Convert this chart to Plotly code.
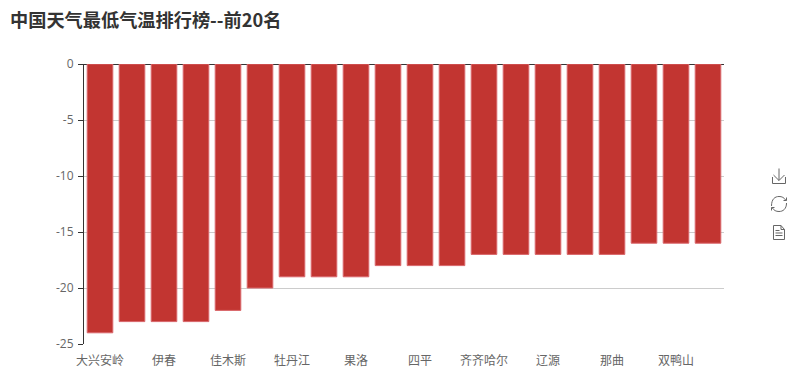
import plotly.graph_objects as go

title_text = "中国天气最低气温排行榜--前20名"
ranks = list(range(20))
min_temps = [-24, -23, -23, -23, -22, -20, -19, -19, -19, -18,
             -18, -18, -17, -17, -17, -17, -17, -16, -16, -16]
tick_positions = [0, 2, 4, 6, 8, 10, 12, 14, 16, 18]
tick_labels = ["大兴安岭", "伊春", "佳木斯", "牡丹江", "果洛", "四平", "齐齐哈尔", "辽源", "那曲", "双鸭山"]
y_ticks = [0, -5, -10, -15, -20, -25]

W, H = 798, 380
CJK = "'Noto Sans CJK SC', 'Noto Sans', sans-serif"


def px_path(cmds):
    """Toolbox icons are given in page pixels; convert to paper coordinates."""
    L, R, T, B = 84, 74, 64, 36
    out = []
    for c in cmds:
        if isinstance(c, str):
            out.append(c)
        else:
            out.append(f"{(c[0]-L)/(W-L-R):.5f},{1-(c[1]-T)/(H-T-B):.5f}")
    return " ".join(out)


icon_style = dict(type="path", xref="paper", yref="paper", line=dict(color="#666", width=1),
                  fillcolor="rgba(0,0,0,0)", layer="above")
icons = [
    # save-as-image
    [("M"), (772.5, 177), ("L"), (772.5, 183.5), ("L"), (785.5, 183.5), ("L"), (785.5, 177)],
    [("M"), (779, 168.5), ("L"), (779, 180.5)],
    [("M"), (773.5, 175), ("L"), (779, 180.5), ("L"), (784.5, 175)],
    # restore
    [("M"), (771.5, 206), ("C"), (771.5, 199), (775, 196.5), (779, 196.5), ("C"), (782, 196.5), (784, 197.5), (786, 200.5)],
    [("M"), (786.5, 203), ("C"), (786.5, 209), (783, 211.5), (779, 211.5), ("C"), (776, 211.5), (774, 210.5), (772, 207.5)],
    [("M"), (783.5, 200.5), ("L"), (786.5, 200.5), ("L"), (786.5, 197.5)],
    [("M"), (774.5, 207.5), ("L"), (771.5, 207.5), ("L"), (771.5, 210.5)],
    # data view
    [("M"), (773.5, 225.5), ("L"), (781, 225.5), ("L"), (784.5, 229.5), ("L"), (784.5, 239.5), ("L"), (773.5, 239.5), ("Z")],
    [("M"), (781, 225.5), ("L"), (781, 229.5), ("L"), (784.5, 229.5)],
    [("M"), (775.5, 230.5), ("L"), (779.5, 230.5)],
    [("M"), (775.5, 233), ("L"), (782.5, 233)],
    [("M"), (775.5, 235.5), ("L"), (782.5, 235.5)],
]
shapes = [dict(path=px_path(i), **icon_style) for i in icons]

fig = go.Figure(go.Bar(
    x=ranks, y=min_temps, width=0.8,
    marker=dict(color="#c23531", line=dict(color="#d9666a", width=1)),
    hoverinfo="x+y",
))
fig.update_layout(
    width=W, height=H, showlegend=False,
    margin=dict(l=84, r=74, t=64, b=36, pad=0),
    paper_bgcolor="#fff", plot_bgcolor="#fff",
    font=dict(family=CJK, size=12, color="#666"),
    title=dict(text=f"<b>{title_text}</b>", x=10 / W, xanchor="left", y=1 - 21 / H, yanchor="middle",
               font=dict(family=CJK, size=18.2, color="#333")),
    xaxis=dict(range=[-0.5, 19.5], tickmode="array", tickvals=tick_positions, ticktext=tick_labels,
               showgrid=False, showline=False, zeroline=False, ticks="outside", ticklen=6,
               tickcolor="rgba(0,0,0,0)", tickangle=0, automargin=False,
               tickfont=dict(size=12, color="#666")),
    yaxis=dict(range=[-25, 0], tickmode="array", tickvals=y_ticks, ticktext=[str(v) for v in y_ticks],
               showgrid=True, gridcolor="#ccc", gridwidth=1,
               showline=True, linecolor="#333", linewidth=1, ticks="outside", ticklen=5, tickcolor="#333",
               ticklabelstandoff=2,
               zeroline=True, zerolinecolor="#333", zerolinewidth=1, automargin=False,
               tickfont=dict(family="'Open Sans', sans-serif", size=12, color="#666")),
    shapes=shapes,
)
fig.write_html("out.html", config={"displayModeBar": False},
               post_script="document.body.style.margin='0';")
